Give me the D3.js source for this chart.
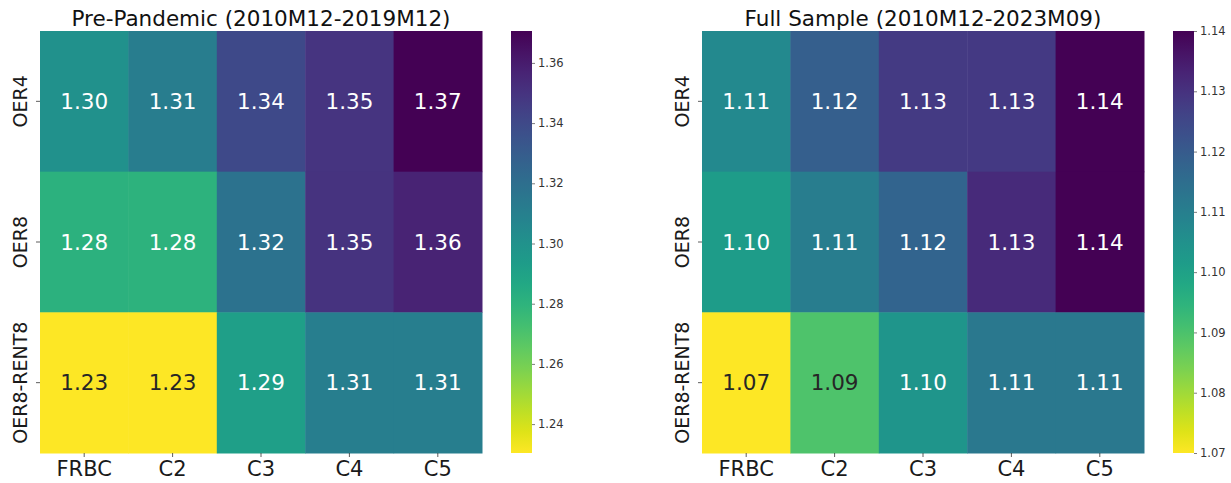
<!DOCTYPE html>
<html>
<head>
<meta charset="utf-8">
<script src="https://cdn.jsdelivr.net/npm/d3@7"></script>
<style>
  html, body { margin: 0; padding: 0; background: #ffffff; }
  svg { display: block; }
</style>
</head>
<body>
<svg id="chart" width="1231" height="483"></svg>
<script>
// Heatmap categories
const columns = ["FRBC", "C2", "C3", "C4", "C5"];
const rows = ["OER4", "OER8", "OER8-RENT8"];

// Pre-pandemic sample values (rows x columns)
const preValues = [
  [1.3005, 1.3117, 1.3398, 1.3495, 1.3706],
  [1.2809, 1.2805, 1.3180, 1.3500, 1.3570],
  [1.2304, 1.2306, 1.2920, 1.3110, 1.3110]
];

// Full sample values (rows x columns)
const fullValues = [
  [1.1070, 1.1190, 1.1280, 1.1285, 1.1400],
  [1.1015, 1.1106, 1.1176, 1.1316, 1.1399],
  [1.0700, 1.0896, 1.1035, 1.1120, 1.1120]
];

// Colorbar tick labels
const preTicks = [1.24, 1.26, 1.28, 1.30, 1.32, 1.34, 1.36];
const fullTicks = [1.07, 1.08, 1.09, 1.10, 1.11, 1.12, 1.13, 1.14];

const panels = [
  { title: "Pre-Pandemic (2010M12-2019M12)", values: preValues, ticks: preTicks, left: 40 },
  { title: "Full Sample (2010M12-2023M09)", values: fullValues, ticks: fullTicks, left: 702 }
];

const svg = d3.select("#chart");
const mapTop = 31, mapBottom = 453, mapWidth = 442;
const cbarOffset = 29, cbarWidth = 21;
const fontFamily = "'DejaVu Sans', sans-serif";
const textSize = 21.5, tickSize = 21, rowLabelSize = 19;

function luminance(c) {
  const rgb = d3.rgb(c);
  const lin = v => { v /= 255; return v <= 0.03928 ? v / 12.92 : Math.pow((v + 0.055) / 1.055, 2.4); };
  return 0.2126 * lin(rgb.r) + 0.7152 * lin(rgb.g) + 0.0722 * lin(rgb.b);
}

const defs = svg.append("defs");

panels.forEach((p, pi) => {
  const flat = p.values.flat();
  const [vmin, vmax] = d3.extent(flat);
  const color = d3.scaleSequential(d3.interpolateViridis).domain([vmax, vmin]);

  const x = d3.scaleBand().domain(columns).range([p.left, p.left + mapWidth]);
  const y = d3.scaleBand().domain(rows).range([mapTop, mapBottom]);

  const g = svg.append("g").attr("class", "panel-" + pi);

  const cells = rows.flatMap((r, i) => columns.map((c, j) => ({ row: r, col: c, value: p.values[i][j] })));

  g.selectAll("rect.cell")
    .data(cells)
    .join("rect")
    .attr("class", "cell")
    .attr("x", d => x(d.col))
    .attr("y", d => y(d.row))
    .attr("width", x.bandwidth() + 0.5)
    .attr("height", y.bandwidth() + 0.5)
    .attr("fill", d => color(d.value));

  g.selectAll("text.annot")
    .data(cells)
    .join("text")
    .attr("class", "annot")
    .attr("x", d => x(d.col) + x.bandwidth() / 2)
    .attr("y", d => y(d.row) + y.bandwidth() / 2)
    .attr("text-anchor", "middle")
    .attr("dominant-baseline", "central")
    .attr("font-family", fontFamily)
    .attr("font-size", textSize)
    .attr("fill", d => luminance(color(d.value)) > 0.408 ? "#262626" : "#ffffff")
    .text(d => d.value.toFixed(2));

  // Category axes
  const xAxis = g.append("g")
    .attr("transform", `translate(0,${mapBottom})`)
    .call(d3.axisBottom(x).tickSize(4).tickPadding(4));
  const yAxis = g.append("g")
    .attr("transform", `translate(${p.left},0)`)
    .call(d3.axisLeft(y).tickSize(4).tickPadding(5));
  [xAxis, yAxis].forEach(a => {
    a.select(".domain").remove();
    a.selectAll("line").attr("stroke", "#333").attr("stroke-width", 0.8);
    a.selectAll("text").attr("font-family", fontFamily).attr("fill", "#1a1a1a");
  });
  xAxis.selectAll("text").attr("font-size", tickSize).attr("dy", "0.71em");
  // rotated row labels, centred on each tick
  yAxis.selectAll(".tick text")
    .attr("font-size", rowLabelSize)
    .attr("transform", "rotate(-90)")
    .attr("text-anchor", "middle")
    .attr("x", 0)
    .attr("y", -13)
    .attr("dy", "0");

  // Title
  g.append("text")
    .attr("x", p.left + mapWidth / 2)
    .attr("y", 26)
    .attr("text-anchor", "middle")
    .attr("font-family", fontFamily)
    .attr("font-size", textSize)
    .attr("fill", "#111")
    .text(p.title);

  // Colorbar
  const cx = p.left + mapWidth + cbarOffset;
  const cscale = d3.scaleLinear().domain([vmin, vmax]).range([mapBottom, mapTop]);
  const gradId = "grad" + pi;
  const grad = defs.append("linearGradient")
    .attr("id", gradId).attr("x1", 0).attr("y1", 1).attr("x2", 0).attr("y2", 0);
  d3.range(0, 1.0001, 0.05).forEach(t => {
    grad.append("stop").attr("offset", t).attr("stop-color", color(vmin + t * (vmax - vmin)));
  });
  g.append("rect")
    .attr("x", cx).attr("y", mapTop)
    .attr("width", cbarWidth).attr("height", mapBottom - mapTop)
    .attr("fill", `url(#${gradId})`);

  const cAxis = g.append("g")
    .attr("transform", `translate(${cx + cbarWidth},0)`)
    .call(d3.axisRight(cscale).tickValues(p.ticks).tickFormat(d3.format(".2f")).tickSize(3).tickPadding(3));
  cAxis.select(".domain").remove();
  cAxis.selectAll("line").attr("stroke", "#444").attr("stroke-width", 0.7);
  cAxis.selectAll("text").attr("font-family", fontFamily).attr("font-size", 11.5).attr("fill", "#333");
});
</script>
</body>
</html>
